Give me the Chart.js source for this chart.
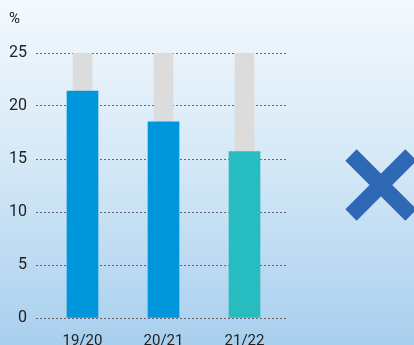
<!DOCTYPE html>
<html>
<head>
<meta charset="utf-8">
<script src="https://cdn.jsdelivr.net/npm/chart.js@4"></script>
<style>
  html, body { margin: 0; padding: 0; }
  body {
    width: 414px; height: 345px; overflow: hidden;
    background: linear-gradient(to bottom, #f3f9fe 0%, #d6e9f7 45%, #a8cfee 100%);
  }
  #wrap { position: relative; width: 414px; height: 345px; overflow: hidden; }
</style>
</head>
<body>
<div id="wrap"><canvas id="chart" width="414" height="352"></canvas></div>
<script>
const years = ["19/20", "20/21", "21/22"];
const rates = [21.4, 18.5, 15.7];
const maxRate = [25, 25, 25];
const barColors = ["#0096dc", "#0096dc", "#26bcc0"];
const yTicks = [0, 5, 10, 15, 20, 25];

// extra drawing: "%" label and the cross on the right
const extras = {
  id: "extras",
  afterDraw(chart) {
    const ctx = chart.ctx;
    ctx.save();
    ctx.fillStyle = "#222";
    ctx.font = "15px Roboto";
    ctx.textBaseline = "middle";
    ctx.fillText("%", 9, 19);

    const cx = 381, cy = 185, d = 30;
    ctx.strokeStyle = "#2f68b4";
    ctx.lineWidth = 16;
    ctx.lineCap = "butt";
    ctx.beginPath();
    ctx.moveTo(cx - d, cy - d); ctx.lineTo(cx + d, cy + d);
    ctx.moveTo(cx + d, cy - d); ctx.lineTo(cx - d, cy + d);
    ctx.stroke();
    ctx.restore();
  }
};

const ctx = document.getElementById("chart").getContext("2d");

new Chart(ctx, {
  type: "bar",
  data: {
    labels: years,
    datasets: [
      {
        data: rates.map((v, i) => ({ x: i, y: v })),
        backgroundColor: barColors,
        barThickness: 31,
        grouped: false
      },
      {
        data: maxRate.map((v, i) => ({ x: i, y: v })),
        backgroundColor: "#dcdcdc",
        barThickness: 19,
        grouped: false
      }
    ]
  },
  options: {
    responsive: false,
    animation: false,
    layout: { padding: { top: 53, right: 126, left: 10, bottom: 2 } },
    plugins: { legend: { display: false }, tooltip: { enabled: false } },
    scales: {
      x: {
        type: "linear",
        offset: false,
        min: -0.574,
        max: 2.537,
        afterBuildTicks(axis) {
          axis.ticks = years.map((_, i) => ({ value: i }));
        },
        afterFit(axis) {
          axis.height = 32;
          axis.paddingLeft = 0;
          axis.paddingRight = 0;
        },
        ticks: {
          callback: (v) => years[v],
          color: "#222",
          font: { family: "Roboto", size: 15 },
          padding: 14,
          maxRotation: 0,
          autoSkip: false
        },
        grid: { display: false, drawTicks: false },
        border: { display: false }
      },
      y: {
        min: 0,
        max: 25,
        afterBuildTicks(axis) {
          axis.ticks = yTicks.map(v => ({ value: v }));
        },
        afterFit(axis) {
          axis.width = 26;
          axis.paddingTop = 0;
          axis.paddingBottom = 0;
        },
        ticks: {
          color: "#222",
          font: { family: "Roboto", size: 16 },
          padding: 9,
          autoSkip: false
        },
        grid: {
          color: "#666",
          lineWidth: 1,
          drawTicks: false
        },
        border: { display: false, dash: [2, 2] }
      }
    }
  },
  plugins: [extras]
});
</script>
</body>
</html>
